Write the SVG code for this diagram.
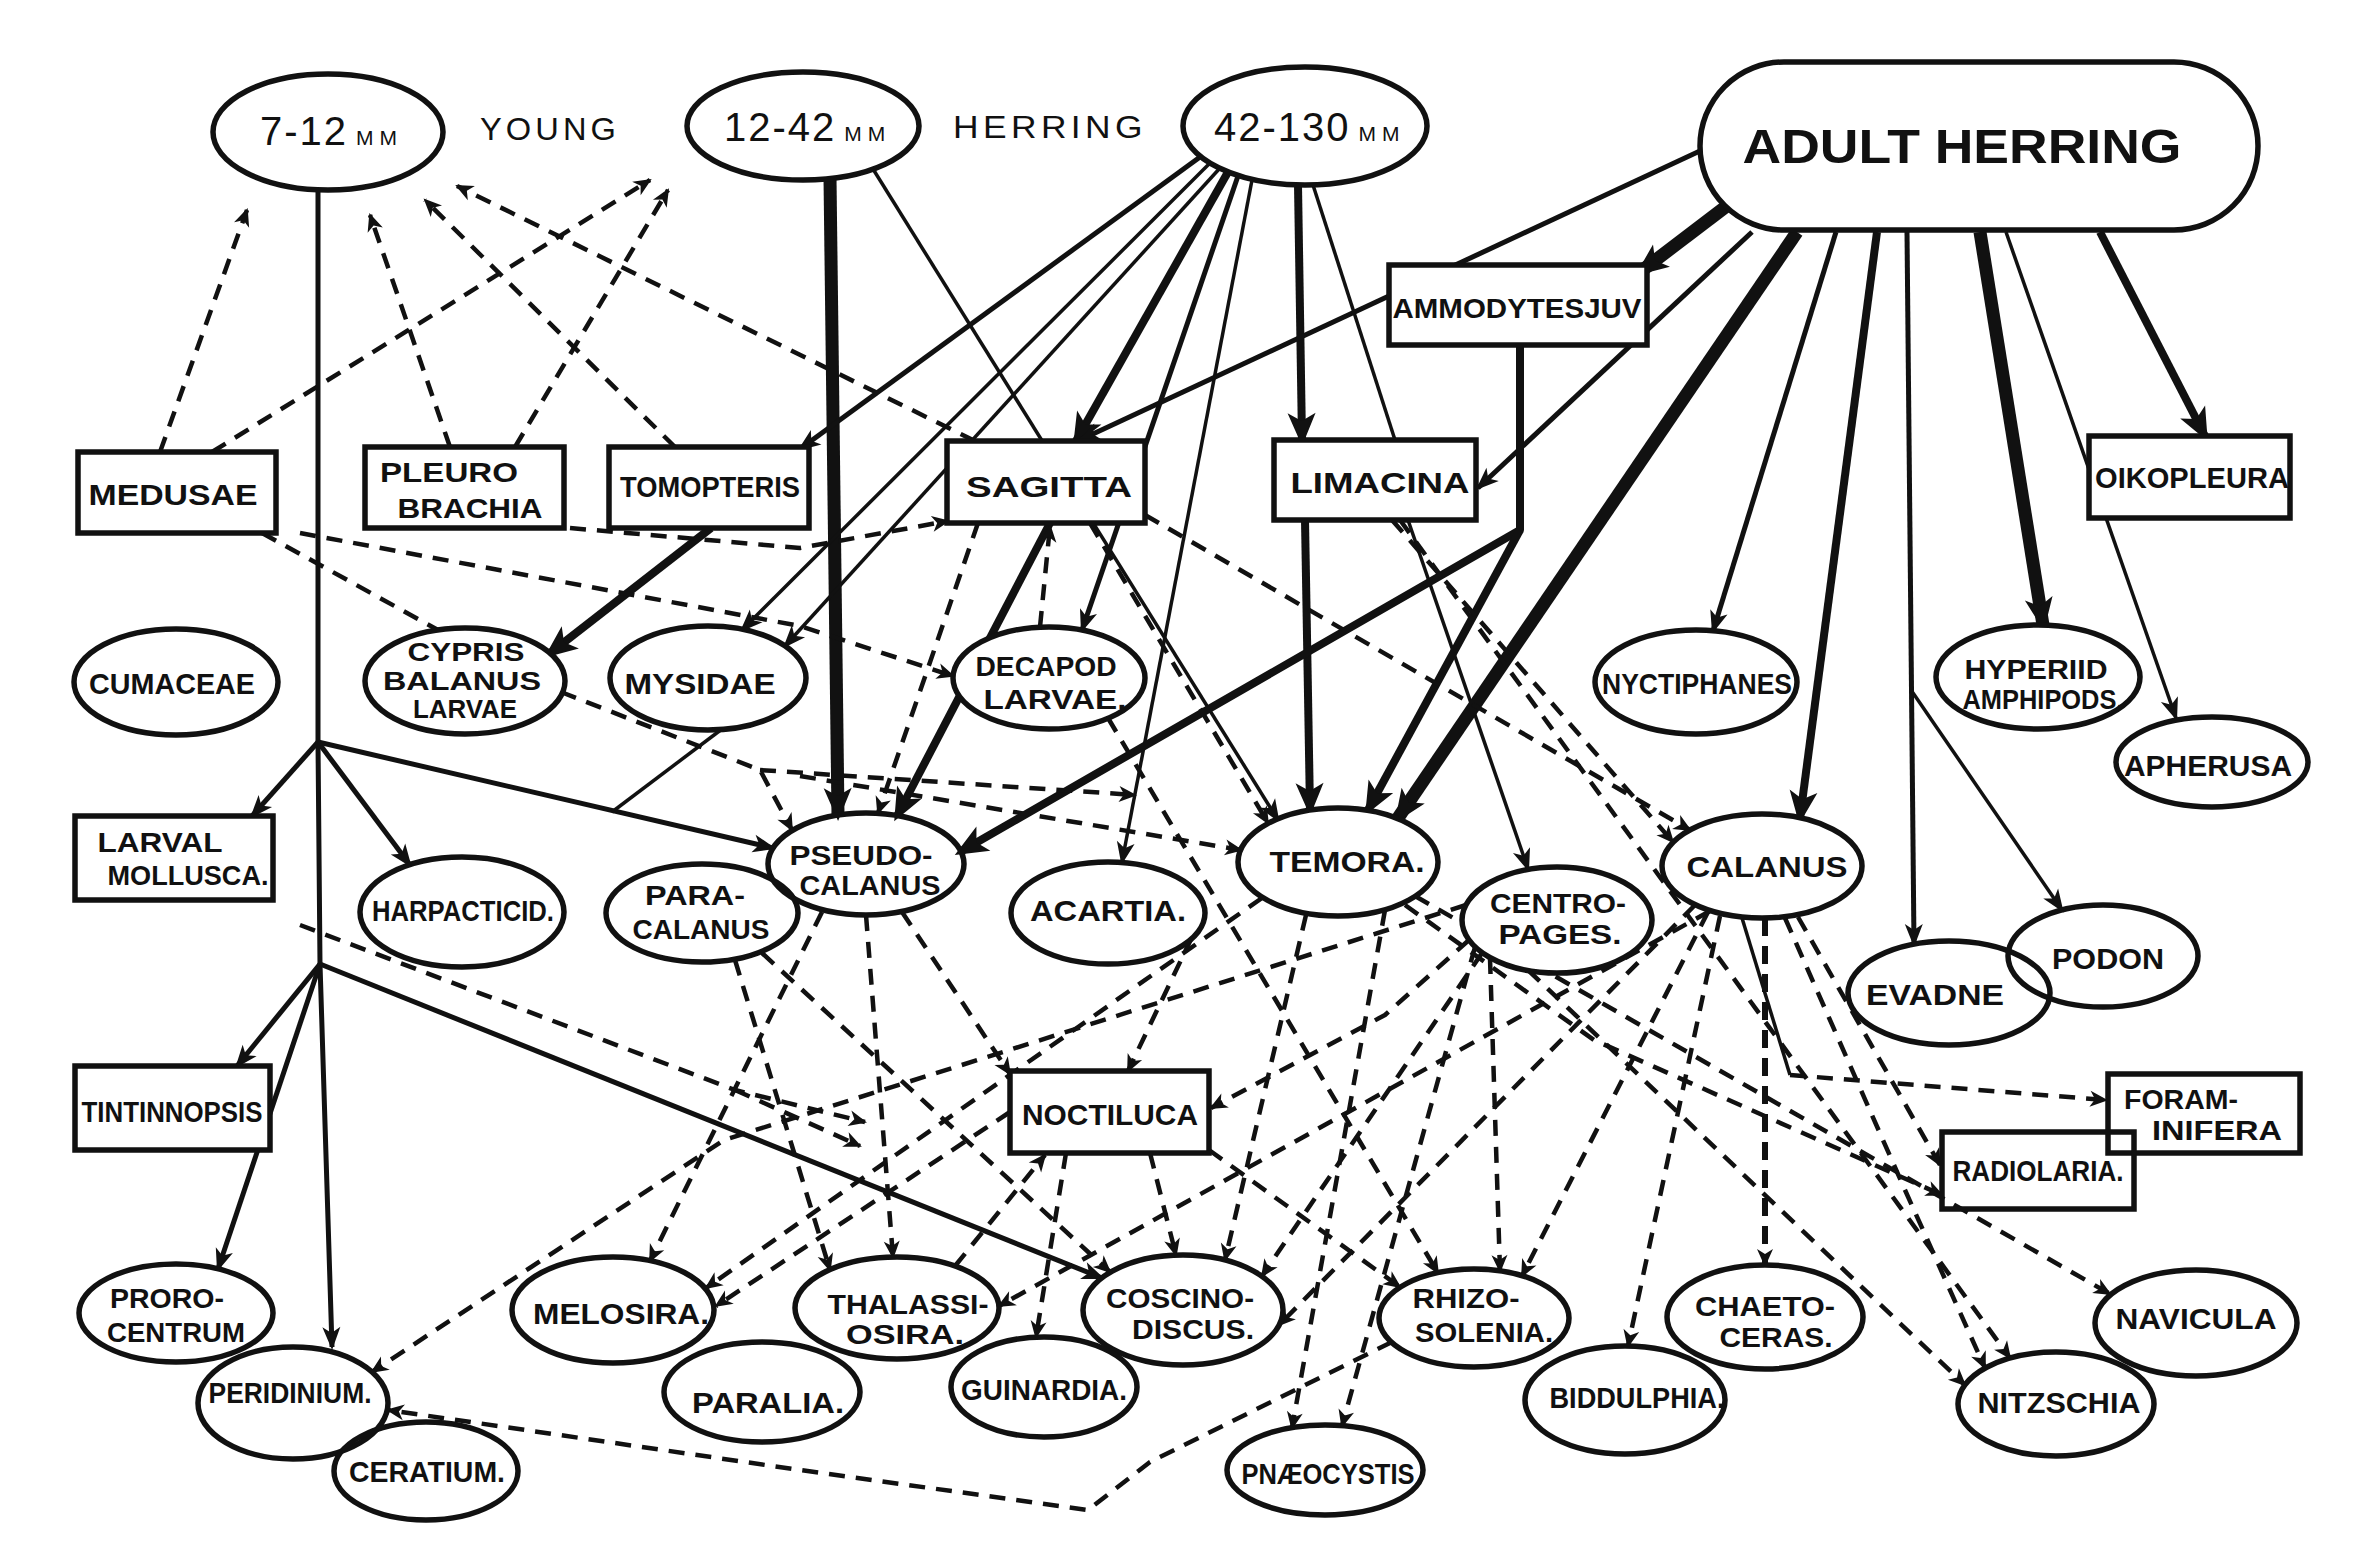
<svg xmlns="http://www.w3.org/2000/svg" width="2371" height="1542" viewBox="0 0 2371 1542">
<style>
.c path{fill:none;stroke:#111;stroke-linejoin:round}
.s1{stroke-width:3.5}.s2{stroke-width:5}.s3{stroke-width:8}.s4{stroke-width:13}
.d{stroke-width:4.5;stroke-dasharray:16 11}
.dt{stroke-width:6;stroke-dasharray:18 10}
.n ellipse,.n rect{fill:#fff;stroke:#111;stroke-width:5.5}
.n .o{fill:none}
text{font-family:"Liberation Sans",Arial,sans-serif;fill:#111}
.t{font-weight:bold;font-size:30px;text-anchor:middle}
.t2{font-weight:bold;font-size:28px;text-anchor:middle}
.t3{font-weight:bold;font-size:25px;text-anchor:middle}
.hd{font-size:40px;letter-spacing:2px}
.mm{font-size:21px;letter-spacing:6px}
.lab{font-size:32px;letter-spacing:4px}
</style>
<defs>
<marker id="a" viewBox="-32 -16 40 32" markerWidth="40" markerHeight="32" refX="0" refY="0" orient="auto" markerUnits="userSpaceOnUse"><path d="M3,0 L-20,-9 L-14,0 L-20,9 Z" fill="#111"/></marker>
<marker id="b" viewBox="-32 -16 40 32" markerWidth="40" markerHeight="32" refX="0" refY="0" orient="auto" markerUnits="userSpaceOnUse"><path d="M6,0 L-27,-14 L-19,0 L-27,14 Z" fill="#111"/></marker>
<marker id="d" viewBox="-32 -16 40 32" markerWidth="40" markerHeight="32" refX="0" refY="0" orient="auto" markerUnits="userSpaceOnUse"><path d="M2,0 L-16,-8 L-11,0 L-16,8 Z" fill="#111"/></marker>
</defs>
<rect width="2371" height="1542" fill="#fff"/>

<g id="connectors" class="c">
<!-- solid -->
<path class="s2" d="M318,190 L318,742 L320,964 L332,1347" marker-end="url(#a)"/>
<path class="s2" d="M318,742 L252,816" marker-end="url(#a)"/>
<path class="s2" d="M318,742 L410,865" marker-end="url(#a)"/>
<path class="s2" d="M318,742 L773,848" marker-end="url(#a)"/>
<path class="s2" d="M320,964 L237,1066" marker-end="url(#a)"/>
<path class="s2" d="M320,964 L218,1269" marker-end="url(#a)"/>
<path class="s2" d="M320,964 L1102,1278" marker-end="url(#a)"/>
<path class="s4" d="M830,178 L838,815" marker-end="url(#b)"/>
<path class="s1" d="M873,169 L1278,820" marker-end="url(#a)"/>
<path class="s2" d="M1200,157 L800,449" marker-end="url(#a)"/>
<path class="s1" d="M1210,163 L742,630" marker-end="url(#a)"/>
<path class="s1" d="M1220,168 L785,646" marker-end="url(#a)"/>
<path class="s3" d="M1228,172 L1076,441" marker-end="url(#b)"/>
<path class="s2" d="M1238,176 L1082,630" marker-end="url(#a)"/>
<path class="s1" d="M1252,180 L1122,862" marker-end="url(#a)"/>
<path class="s3" d="M1298,185 L1302,440" marker-end="url(#b)"/>
<path class="s3" d="M1305,520 L1310,810" marker-end="url(#b)"/>
<path class="s1" d="M1313,185 L1395,440"/>
<path class="s1" d="M1408,520 L1528,869" marker-end="url(#a)"/>
<path class="s2" d="M1702,150 L1080,440" marker-end="url(#a)"/>
<path class="s4" d="M1728,205 L1640,272" marker-end="url(#b)"/>
<path class="s2" d="M1752,232 L1478,488" marker-end="url(#a)"/>
<path class="s4" d="M1797,232 L1398,818" marker-end="url(#b)"/>
<path class="s3" d="M1520,345 L1520,530 L960,852" marker-end="url(#b)"/>
<path class="s3" d="M1520,530 L1368,810" marker-end="url(#b)"/>
<path class="s2" d="M1836,232 L1713,631" marker-end="url(#a)"/>
<path class="s3" d="M1877,232 L1800,818" marker-end="url(#b)"/>
<path class="s2" d="M1907,232 L1914,944" marker-end="url(#a)"/>
<path class="s1" d="M1911,690 L2062,910" marker-end="url(#a)"/>
<path class="s4" d="M1980,232 L2043,625" marker-end="url(#b)"/>
<path class="s1" d="M2006,232 L2176,718" marker-end="url(#a)"/>
<path class="s3" d="M2100,232 L2205,436" marker-end="url(#b)"/>
<path class="s3" d="M711,528 L549,654" marker-end="url(#b)"/>
<path class="s3" d="M1050,523 L897,816" marker-end="url(#b)"/>
<path class="s1" d="M722,729 L612,812"/>
<path class="s1" d="M1742,918 L1790,1075"/>
<!-- dashed -->
<path class="d" d="M160,452 L247,210" marker-end="url(#d)"/>
<path class="d" d="M212,452 L650,180" marker-end="url(#d)"/>
<path class="d" d="M450,447 L370,215" marker-end="url(#d)"/>
<path class="d" d="M515,447 L668,190" marker-end="url(#d)"/>
<path class="d" d="M675,447 L425,200" marker-end="url(#d)"/>
<path class="d" d="M975,441 L457,186" marker-end="url(#d)"/>
<path class="d" d="M262,533 L438,630"/>
<path class="d" d="M300,533 L800,626 L953,676" marker-end="url(#d)"/>
<path class="d" d="M570,528 L800,548 L948,521" marker-end="url(#d)"/>
<path class="d" d="M561,692 L760,770 L792,830" marker-end="url(#d)"/>
<path class="d" d="M760,770 L1135,795" marker-end="url(#d)"/>
<path class="d" d="M800,776 L1241,850" marker-end="url(#d)"/>
<path class="d" d="M978,523 L878,813" marker-end="url(#d)"/>
<path class="d" d="M1040,627 L1050,526" marker-end="url(#d)"/>
<path class="d" d="M1090,523 L1268,823" marker-end="url(#d)"/>
<path class="d" d="M1145,515 L1690,830" marker-end="url(#d)"/>
<path class="d" d="M1392,520 L1673,842" marker-end="url(#d)"/>
<path class="d" d="M1400,520 L2010,1358" marker-end="url(#d)"/>
<path class="d" d="M822,912 L650,1261" marker-end="url(#d)"/>
<path class="d" d="M866,915 L893,1257" marker-end="url(#d)"/>
<path class="d" d="M902,912 L1010,1074" marker-end="url(#d)"/>
<path class="d" d="M735,960 L830,1270" marker-end="url(#d)"/>
<path class="d" d="M762,953 L1110,1272" marker-end="url(#d)"/>
<path class="d" d="M300,925 L735,1090 L865,1122" marker-end="url(#d)"/>
<path class="d" d="M735,1090 L860,1146" marker-end="url(#d)"/>
<path class="d" d="M1262,898 L706,1288" marker-end="url(#d)"/>
<path class="d" d="M1306,915 L1225,1260" marker-end="url(#d)"/>
<path class="d" d="M1010,1112 L716,1306" marker-end="url(#d)"/>
<path class="d" d="M1466,905 L984,1058 L724,1140 L372,1372" marker-end="url(#d)"/>
<path class="d" d="M1482,953 L1262,1276" marker-end="url(#d)"/>
<path class="d" d="M1392,1342 L1150,1462 L1088,1510 L800,1470 L388,1410" marker-end="url(#d)"/>
<path class="d" d="M955,1266 L1045,1155" marker-end="url(#d)"/>
<path class="d" d="M1066,1153 L1036,1337" marker-end="url(#d)"/>
<path class="d" d="M1150,1153 L1176,1255" marker-end="url(#d)"/>
<path class="d" d="M1209,1150 L1400,1287" marker-end="url(#d)"/>
<path class="d" d="M1469,940 L1385,1015 L1211,1108" marker-end="url(#d)"/>
<path class="d" d="M1192,937 L1128,1071" marker-end="url(#d)"/>
<path class="d" d="M1108,718 L1438,1273" marker-end="url(#d)"/>
<path class="d" d="M1490,958 L1500,1271" marker-end="url(#d)"/>
<path class="d" d="M1475,947 L1342,1426" marker-end="url(#d)"/>
<path class="d" d="M1385,910 L1292,1428" marker-end="url(#d)"/>
<path class="d" d="M1710,911 L999,1306" marker-end="url(#d)"/>
<path class="d" d="M1695,905 L1279,1325" marker-end="url(#d)"/>
<path class="d" d="M1708,912 L1522,1276" marker-end="url(#d)"/>
<path class="d" d="M1720,916 L1628,1346" marker-end="url(#d)"/>
<path class="dt" d="M1765,918 L1765,1265" marker-end="url(#d)"/>
<path class="d" d="M1798,917 L1940,1165" marker-end="url(#d)"/>
<path class="d" d="M1785,918 L1905,1190 L1985,1368" marker-end="url(#d)"/>
<path class="d" d="M1790,1075 L2106,1100" marker-end="url(#d)"/>
<path class="d" d="M1405,905 L1594,1040 L1942,1195" marker-end="url(#d)"/>
<path class="d" d="M1415,896 L2110,1294" marker-end="url(#d)"/>
<path class="d" d="M1528,970 L1965,1385" marker-end="url(#d)"/>
</g>

<g id="title-young"><text class="lab" x="480" y="140" textLength="140" lengthAdjust="spacingAndGlyphs">YOUNG</text></g>
<g id="title-herring"><text class="lab" x="953" y="138" textLength="194" lengthAdjust="spacingAndGlyphs">HERRING</text></g>

<g class="n">
<g id="n-7-12mm"><ellipse cx="328" cy="132" rx="115" ry="58"/><text class="hd" x="260" y="145">7-12<tspan class="mm" dx="8">MM</tspan></text></g>
<g id="n-12-42mm"><ellipse cx="803" cy="126" rx="116" ry="54"/><text class="hd" x="724" y="141">12-42<tspan class="mm" dx="8">MM</tspan></text></g>
<g id="n-42-130mm"><ellipse cx="1305" cy="126" rx="122" ry="59"/><text class="hd" x="1214" y="141">42-130<tspan class="mm" dx="8">MM</tspan></text></g>
<g id="n-adult-herring"><rect x="1700" y="62" width="558" height="168" rx="84" ry="84"/><text class="t" style="font-size:48px" x="1962" y="163" textLength="439" lengthAdjust="spacingAndGlyphs">ADULT HERRING</text></g>

<g id="n-medusae"><rect x="78" y="452" width="198" height="81"/><text class="t" x="173" y="505" textLength="169" lengthAdjust="spacingAndGlyphs">MEDUSAE</text></g>
<g id="n-pleurobrachia"><rect x="365" y="447" width="199" height="81"/><text class="t2" x="449" y="482" textLength="138" lengthAdjust="spacingAndGlyphs">PLEURO</text><text class="t2" x="470" y="518" textLength="145" lengthAdjust="spacingAndGlyphs">BRACHIA</text></g>
<g id="n-tomopteris"><rect x="609" y="447" width="200" height="81"/><text class="t" x="710" y="497" textLength="180" lengthAdjust="spacingAndGlyphs">TOMOPTERIS</text></g>
<g id="n-sagitta"><rect x="947" y="441" width="198" height="82"/><text class="t" x="1049" y="497" textLength="166" lengthAdjust="spacingAndGlyphs">SAGITTA</text></g>
<g id="n-limacina"><rect x="1274" y="440" width="202" height="80"/><text class="t" x="1380" y="493" textLength="179" lengthAdjust="spacingAndGlyphs">LIMACINA</text></g>
<g id="n-ammodytes"><rect x="1389" y="265" width="258" height="80"/><text class="t2" x="1517" y="318" textLength="249" lengthAdjust="spacingAndGlyphs">AMMODYTESJUV</text></g>
<g id="n-oikopleura"><rect x="2089" y="436" width="201" height="82"/><text class="t" x="2192" y="488" textLength="194" lengthAdjust="spacingAndGlyphs">OIKOPLEURA</text></g>

<g id="n-cumaceae"><ellipse cx="176" cy="682" rx="102" ry="53"/><text class="t" x="172" y="694" textLength="166" lengthAdjust="spacingAndGlyphs">CUMACEAE</text></g>
<g id="n-cypris"><ellipse cx="465" cy="681" rx="100" ry="53"/><text class="t3" x="466" y="661" textLength="117" lengthAdjust="spacingAndGlyphs">CYPRIS</text><text class="t3" x="462" y="690" textLength="158" lengthAdjust="spacingAndGlyphs">BALANUS</text><text class="t3" x="465" y="718" textLength="104" lengthAdjust="spacingAndGlyphs">LARVAE</text></g>
<g id="n-mysidae"><ellipse cx="708" cy="678" rx="98" ry="52"/><text class="t" x="700" y="694" textLength="151" lengthAdjust="spacingAndGlyphs">MYSIDAE</text></g>
<g id="n-decapod"><ellipse cx="1049" cy="678" rx="96" ry="51"/><text class="t2" x="1046" y="676" textLength="141" lengthAdjust="spacingAndGlyphs">DECAPOD</text><text class="t2" x="1055" y="709" textLength="143" lengthAdjust="spacingAndGlyphs">LARVAE.</text></g>
<g id="n-nyctiphanes"><ellipse cx="1696" cy="682" rx="101" ry="52"/><text class="t" x="1697" y="694" textLength="190" lengthAdjust="spacingAndGlyphs">NYCTIPHANES</text></g>
<g id="n-hyperiid"><ellipse cx="2038" cy="677" rx="102" ry="52"/><text class="t2" x="2036" y="679" textLength="143" lengthAdjust="spacingAndGlyphs">HYPERIID</text><text class="t2" x="2043" y="709" textLength="161" lengthAdjust="spacingAndGlyphs">AMPHIPODS.</text></g>
<g id="n-apherusa"><ellipse class="o" cx="2212" cy="762" rx="96" ry="45"/><text class="t" x="2208" y="776" textLength="168" lengthAdjust="spacingAndGlyphs">APHERUSA</text></g>

<g id="n-larval-mollusca"><rect x="75" y="816" width="198" height="84"/><text class="t2" x="160" y="852" textLength="125" lengthAdjust="spacingAndGlyphs">LARVAL</text><text class="t2" x="188" y="885" textLength="161" lengthAdjust="spacingAndGlyphs">MOLLUSCA.</text></g>
<g id="n-harpacticid"><ellipse cx="462" cy="912" rx="102" ry="55"/><text class="t" x="463" y="921" textLength="182" lengthAdjust="spacingAndGlyphs">HARPACTICID.</text></g>
<g id="n-paracalanus"><ellipse cx="702" cy="913" rx="96" ry="49"/><text class="t2" x="695" y="905" textLength="100" lengthAdjust="spacingAndGlyphs">PARA-</text><text class="t2" x="701" y="939" textLength="137" lengthAdjust="spacingAndGlyphs">CALANUS</text></g>
<g id="n-pseudocalanus"><ellipse class="o" cx="866" cy="864" rx="98" ry="51"/><text class="t2" x="861" y="865" textLength="143" lengthAdjust="spacingAndGlyphs">PSEUDO-</text><text class="t2" x="870" y="895" textLength="141" lengthAdjust="spacingAndGlyphs">CALANUS</text></g>
<g id="n-acartia"><ellipse cx="1108" cy="913" rx="97" ry="51"/><text class="t" x="1108" y="921" textLength="156" lengthAdjust="spacingAndGlyphs">ACARTIA.</text></g>
<g id="n-temora"><ellipse cx="1338" cy="862" rx="100" ry="54"/><text class="t" x="1347" y="872" textLength="155" lengthAdjust="spacingAndGlyphs">TEMORA.</text></g>
<g id="n-centropages"><ellipse cx="1557" cy="920" rx="95" ry="53"/><text class="t2" x="1558" y="913" textLength="136" lengthAdjust="spacingAndGlyphs">CENTRO-</text><text class="t2" x="1560" y="944" textLength="123" lengthAdjust="spacingAndGlyphs">PAGES.</text></g>
<g id="n-calanus"><ellipse cx="1762" cy="866" rx="100" ry="52"/><text class="t" x="1767" y="877" textLength="161" lengthAdjust="spacingAndGlyphs">CALANUS</text></g>
<g id="n-evadne"><ellipse cx="1949" cy="993" rx="101" ry="52"/><text class="t" x="1935" y="1005" textLength="138" lengthAdjust="spacingAndGlyphs">EVADNE</text></g>
<g id="n-podon"><ellipse class="o" cx="2103" cy="956" rx="95" ry="51"/><text class="t" x="2108" y="969" textLength="112" lengthAdjust="spacingAndGlyphs">PODON</text></g>

<g id="n-tintinnopsis"><rect x="75" y="1066" width="195" height="84"/><text class="t" x="172" y="1122" textLength="181" lengthAdjust="spacingAndGlyphs">TINTINNOPSIS</text></g>
<g id="n-noctiluca"><rect x="1010" y="1071" width="199" height="82"/><text class="t" x="1110" y="1125" textLength="176" lengthAdjust="spacingAndGlyphs">NOCTILUCA</text></g>
<g id="n-foraminifera"><rect x="2108" y="1074" width="192" height="79"/><text class="t2" x="2181" y="1109" textLength="114" lengthAdjust="spacingAndGlyphs">FORAM-</text><text class="t2" x="2217" y="1140" textLength="130" lengthAdjust="spacingAndGlyphs">INIFERA</text></g>
<g id="n-radiolaria"><rect class="o" x="1942" y="1132" width="192" height="77"/><text class="t" x="2038" y="1181" textLength="171" lengthAdjust="spacingAndGlyphs">RADIOLARIA.</text></g>

<g id="n-prorocentrum"><ellipse cx="176" cy="1313" rx="97" ry="49"/><text class="t2" x="167" y="1308" textLength="114" lengthAdjust="spacingAndGlyphs">PRORO-</text><text class="t2" x="176" y="1342" textLength="138" lengthAdjust="spacingAndGlyphs">CENTRUM</text></g>
<g id="n-peridinium"><ellipse class="o" cx="293" cy="1403" rx="95" ry="56"/><text class="t" x="290" y="1403" textLength="163" lengthAdjust="spacingAndGlyphs">PERIDINIUM.</text></g>
<g id="n-ceratium"><ellipse class="o" cx="426" cy="1471" rx="92" ry="49"/><text class="t" x="427" y="1482" textLength="156" lengthAdjust="spacingAndGlyphs">CERATIUM.</text></g>
<g id="n-melosira"><ellipse cx="613" cy="1310" rx="101" ry="53"/><text class="t" x="621" y="1324" textLength="176" lengthAdjust="spacingAndGlyphs">MELOSIRA.</text></g>
<g id="n-paralia"><ellipse class="o" cx="762" cy="1392" rx="98" ry="50"/><text class="t" x="768" y="1413" textLength="152" lengthAdjust="spacingAndGlyphs">PARALIA.</text></g>
<g id="n-thalassiosira"><ellipse cx="897" cy="1308" rx="102" ry="51"/><text class="t2" x="908" y="1314" textLength="161" lengthAdjust="spacingAndGlyphs">THALASSI-</text><text class="t2" x="905" y="1344" textLength="118" lengthAdjust="spacingAndGlyphs">OSIRA.</text></g>
<g id="n-coscinodiscus"><ellipse cx="1183" cy="1310" rx="100" ry="55"/><text class="t2" x="1180" y="1308" textLength="148" lengthAdjust="spacingAndGlyphs">COSCINO-</text><text class="t2" x="1193" y="1339" textLength="122" lengthAdjust="spacingAndGlyphs">DISCUS.</text></g>
<g id="n-guinardia"><ellipse class="o" cx="1044" cy="1387" rx="93" ry="50"/><text class="t" x="1044" y="1400" textLength="166" lengthAdjust="spacingAndGlyphs">GUINARDIA.</text></g>
<g id="n-pnaeocystis"><ellipse cx="1325" cy="1470" rx="98" ry="45"/><text class="t" x="1328" y="1484" textLength="173" lengthAdjust="spacingAndGlyphs">PNÆOCYSTIS</text></g>
<g id="n-rhizosolenia"><ellipse cx="1474" cy="1318" rx="95" ry="49"/><text class="t2" x="1466" y="1308" textLength="107" lengthAdjust="spacingAndGlyphs">RHIZO-</text><text class="t2" x="1484" y="1342" textLength="138" lengthAdjust="spacingAndGlyphs">SOLENIA.</text></g>
<g id="n-biddulphia"><ellipse class="o" cx="1625" cy="1400" rx="100" ry="54"/><text class="t" x="1637" y="1408" textLength="175" lengthAdjust="spacingAndGlyphs">BIDDULPHIA.</text></g>
<g id="n-chaetoceras"><ellipse cx="1765" cy="1317" rx="98" ry="52"/><text class="t2" x="1765" y="1316" textLength="140" lengthAdjust="spacingAndGlyphs">CHAETO-</text><text class="t2" x="1776" y="1347" textLength="113" lengthAdjust="spacingAndGlyphs">CERAS.</text></g>
<g id="n-navicula"><ellipse cx="2196" cy="1323" rx="101" ry="53"/><text class="t" x="2196" y="1329" textLength="161" lengthAdjust="spacingAndGlyphs">NAVICULA</text></g>
<g id="n-nitzschia"><ellipse class="o" cx="2056" cy="1404" rx="98" ry="52"/><text class="t" x="2059" y="1413" textLength="163" lengthAdjust="spacingAndGlyphs">NITZSCHIA</text></g>
</g>
</svg>
